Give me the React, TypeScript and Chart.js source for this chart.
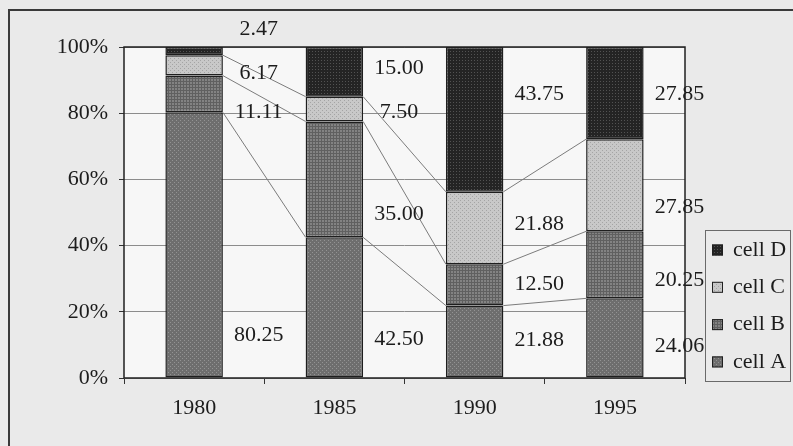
import React, { useEffect, useRef } from "react";
import { Chart, registerables } from "chart.js";

Chart.register(...registerables);

// Categories and the four cell series (values printed beside each bar)
const years = ["1980", "1985", "1990", "1995"];
const cellA = [80.25, 42.5, 21.88, 24.06];
const cellB = [11.11, 35.0, 12.5, 20.25];
const cellC = [6.17, 7.5, 21.88, 27.85];
const cellD = [2.47, 15.0, 43.75, 27.85];
const yTickValues = [0, 20, 40, 60, 80, 100];
const seriesNames = ["cell A", "cell B", "cell C", "cell D"];

// Vertical anchor of each value label, in percent along the value axis
const labelPosA = [12.8, 11.8, 11.5, 9.5];
const labelPosB = [80.2, 49.5, 28.4, 29.5];
const labelPosC = [92.1, 80.2, 46.5, 51.7];
const labelPosD = [105.3, 93.7, 85.6, 85.8];

const FONT_FAMILY = "'Liberation Serif', 'Times New Roman', serif";
const TEXT_COLOR = "#1c1c1c";

type PatternKind = "dots" | "grid";

function makePattern(base: string, mark: string, kind: PatternKind, size: number): CanvasPattern | string {
  const tile = document.createElement("canvas");
  tile.width = size;
  tile.height = size;
  const t = tile.getContext("2d");
  if (!t) return base;
  t.fillStyle = base;
  t.fillRect(0, 0, size, size);
  t.fillStyle = mark;
  if (kind === "dots") {
    t.fillRect(0, 0, 1, 1);
    if (size >= 4) t.fillRect(size / 2, size / 2, 1, 1);
  } else {
    t.fillRect(0, 0, size, 1);
    t.fillRect(0, 0, 1, size);
  }
  const ctx = document.createElement("canvas").getContext("2d");
  const p = ctx ? ctx.createPattern(tile, "repeat") : null;
  return p || base;
}

export default function App() {
  const canvasRef = useRef<HTMLCanvasElement | null>(null);

  useEffect(() => {
    const canvas = canvasRef.current;
    if (!canvas) return;

    const raw = [cellA, cellB, cellC, cellD];
    const labelPos = [labelPosA, labelPosB, labelPosC, labelPosD];
    const totals = years.map((_, j) => raw.reduce((s, arr) => s + arr[j], 0));
    const shares = raw.map((arr) => arr.map((v, j) => (v / totals[j]) * 100));

    const fills = [
      makePattern("#6e6e6e", "#939393", "dots", 4),
      makePattern("#838383", "#606060", "grid", 3),
      makePattern("#c8c8c8", "#a4a4a4", "dots", 4),
      makePattern("#242424", "#525252", "dots", 3),
    ];

    const font = { family: FONT_FAMILY, size: 22 };

    const backgroundPlugin = {
      id: "frameBackground",
      beforeDraw(chart: any) {
        const { ctx, chartArea } = chart;
        ctx.save();
        ctx.fillStyle = "#eaeaea";
        ctx.fillRect(0, 0, chart.width, chart.height);
        ctx.fillStyle = "#f7f7f7";
        ctx.fillRect(chartArea.left, chartArea.top, chartArea.right - chartArea.left, chartArea.bottom - chartArea.top);
        ctx.strokeStyle = "#3a3a3a";
        ctx.lineWidth = 2;
        ctx.strokeRect(9, 10, chart.width + 20, chart.height + 20);
        ctx.restore();
      },
    };

    const overlayPlugin = {
      id: "seriesLinesAndLabels",
      afterDatasetsDraw(chart: any) {
        const { ctx, chartArea, scales } = chart;
        const catWidth = (chartArea.right - chartArea.left) / years.length;
        ctx.save();
        // series lines joining the top of each segment to the next bar
        ctx.strokeStyle = "#7c7c7c";
        ctx.lineWidth = 1;
        for (let i = 0; i < 3; i++) {
          const meta = chart.getDatasetMeta(i);
          for (let j = 0; j < years.length - 1; j++) {
            const a = meta.data[j] as any;
            const b = meta.data[j + 1] as any;
            ctx.beginPath();
            ctx.moveTo(a.x + a.width / 2, a.y);
            ctx.lineTo(b.x - b.width / 2, b.y);
            ctx.stroke();
          }
        }
        // value labels beside the bars
        ctx.fillStyle = TEXT_COLOR;
        ctx.font = `22px ${FONT_FAMILY}`;
        ctx.textAlign = "center";
        ctx.textBaseline = "middle";
        for (let i = 0; i < raw.length; i++) {
          const meta = chart.getDatasetMeta(i);
          for (let j = 0; j < years.length; j++) {
            const bar = meta.data[j] as any;
            const x = bar.x + catWidth * 0.46;
            const y = scales.y.getPixelForValue(labelPos[i][j]);
            ctx.fillText(raw[i][j].toFixed(2), x, y);
          }
        }
        ctx.restore();
      },
      afterDraw(chart: any) {
        const { ctx, chartArea } = chart;
        ctx.save();
        // plot area outline
        ctx.strokeStyle = "#202020";
        ctx.lineWidth = 1.5;
        ctx.strokeRect(chartArea.left, chartArea.top, chartArea.right - chartArea.left, chartArea.bottom - chartArea.top);

        // legend box, top series first
        const lx = 705;
        const ly = 230;
        const lw = 85;
        const lh = 151;
        ctx.strokeStyle = "#6a6a6a";
        ctx.lineWidth = 1;
        ctx.strokeRect(lx + 0.5, ly + 0.5, lw, lh);
        ctx.font = `22px ${FONT_FAMILY}`;
        ctx.textAlign = "left";
        ctx.textBaseline = "middle";
        const order = [3, 2, 1, 0];
        order.forEach((di, k) => {
          const cy = ly + 20 + k * 37.3;
          ctx.fillStyle = fills[di] as any;
          ctx.fillRect(712, cy - 5.5, 11, 11);
          ctx.strokeStyle = "#202020";
          ctx.strokeRect(712.5, cy - 5, 10, 10);
          ctx.fillStyle = TEXT_COLOR;
          ctx.fillText(seriesNames[di], 733, cy);
        });
        ctx.restore();
      },
    };

    const chart = new Chart(canvas, {
      type: "bar",
      data: {
        labels: years,
        datasets: shares.map((data, i) => ({
          label: seriesNames[i],
          data,
          backgroundColor: fills[i] as any,
          borderColor: "#1e1e1e",
          borderWidth: 1.5,
          borderSkipped: false,
          categoryPercentage: 1,
          barPercentage: 0.41,
        })),
      },
      options: {
        responsive: false,
        animation: false,
        layout: { padding: { top: 47, right: 108, bottom: 0, left: 0 } },
        plugins: {
          legend: { display: false },
          tooltip: { enabled: false },
        },
        scales: {
          x: {
            stacked: true,
            grid: {
              display: true,
              drawOnChartArea: false,
              drawTicks: true,
              tickLength: 6,
              tickColor: "#333333",
              offset: true,
            },
            border: { display: false },
            ticks: { font, color: TEXT_COLOR, padding: 11 },
            afterFit: (s: any) => {
              s.height = 68;
            },
          },
          y: {
            stacked: true,
            min: 0,
            max: 100,
            afterBuildTicks: (s: any) => {
              s.ticks = yTickValues.map((v) => ({ value: v }));
            },
            grid: { color: "#8c8c8c", lineWidth: 1, tickLength: 5, tickColor: "#333333" },
            border: { display: false },
            ticks: {
              font,
              color: TEXT_COLOR,
              padding: 11,
              callback: (v: any) => `${v}%`,
            },
            afterFit: (s: any) => {
              s.width = 124;
            },
          },
        },
      },
      plugins: [backgroundPlugin, overlayPlugin],
    });

    return () => chart.destroy();
  }, []);

  return (
    <div style={{ position: "absolute", left: 0, top: 0, width: 793, height: 446 }}>
      <canvas ref={canvasRef} width={793} height={446} style={{ display: "block" }} />
    </div>
  );
}
